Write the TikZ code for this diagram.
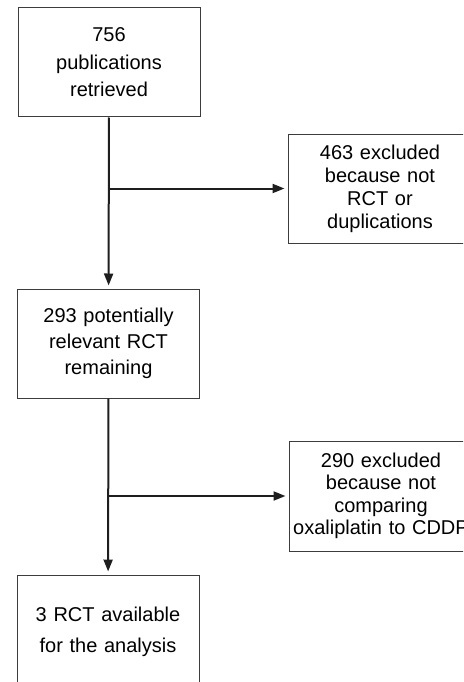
\documentclass[tikz,border=0pt]{standalone}
\usepackage{fontspec}
\setmainfont{Liberation Sans}
\usetikzlibrary{arrows.meta}
\definecolor{FLOWgrey}{RGB}{60,60,60}
\definecolor{FLOWdark}{RGB}{30,30,30}

\begin{document}
\begin{tikzpicture}[x=1pt, y=-1pt,
	stagebox/.style={draw=FLOWgrey, line width=1pt, inner sep=0, align=center, text width=176pt, minimum width=182pt, minimum height=109pt},
	flow/.style={-{Triangle[length=12pt, width=9pt]}, line width=2pt, FLOWdark, shorten >=3pt},
	every node/.style={font=\fontsize{20}{24}\selectfont}
	]
	\useasboundingbox (0,0) rectangle (463,682);
	\clip (0,0) rectangle (463,682);

	\node (pubs) at (109,62.5) [stagebox, font=\fontsize{20}{27.5}\selectfont] {756\\publications\\retrieved};
	\node (notrct) at (380,188.5) [stagebox, minimum width=184pt, font=\fontsize{20}{23}\selectfont] {463 excluded\\because not\\RCT or\\duplications};
	\node (relevant) at (108.5,343.5) [stagebox, font=\fontsize{20}{26}\selectfont] {293 potentially\\relevant RCT\\remaining};
	\node (notcomp) at (381,496) [stagebox, minimum width=184pt, minimum height=110pt, font=\fontsize{20}{22.5}\selectfont] {290 excluded\\because not\\comparing\\oxaliplatin to CDDP};
	\node (final) at (108,632) [stagebox, minimum height=114pt, font=\fontsize{20}{31.5}\selectfont] {3 RCT available\\for the analysis};

	\coordinate (split1) at (pubs.south |- notrct.west);
	\coordinate (split2) at (relevant.south |- notcomp.west);

	\draw [flow] (pubs) -- (relevant);
	\draw [flow] (split1) -- (notrct);
	\draw [flow] (relevant) -- (final);
	\draw [flow] (split2) -- (notcomp);
\end{tikzpicture}
\end{document}
